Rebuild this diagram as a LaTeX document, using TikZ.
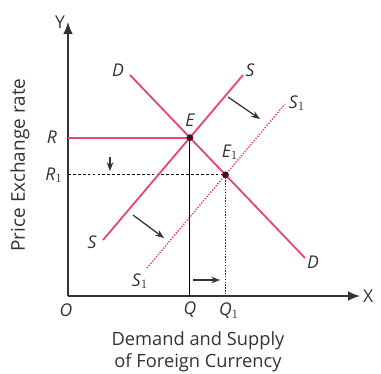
\documentclass[tikz,border=0pt]{standalone}
\usepackage{fontspec}
\setmainfont{Open Sans}
\usepackage{xcolor}
\definecolor{cCurve}{HTML}{E6457E}
\definecolor{cAxis}{HTML}{333333}
\definecolor{cDot}{HTML}{4A1020}
\usetikzlibrary{positioning,arrows.meta}
\tikzset{
  axis-line/.style={line width=1pt,draw=cAxis,-{Latex[length=3mm,width=2.4mm]}},
  curve/.style={draw=cCurve,line width=1.3pt},
  curve-new/.style={draw=cCurve,line width=1pt,densely dotted},
  guide/.style={draw=black,line width=0.8pt},
  guide-dash/.style={draw=black,line width=0.8pt,dash pattern=on 2pt off 1.5pt},
  guide-dot/.style={draw=cAxis,line width=1pt,densely dotted},
  shift-arrow/.style={-{Stealth[length=2.2mm]},line width=0.9pt,draw=cAxis},
  curve-label/.style={font=\itshape\fontsize{12.5}{15}\selectfont,text=cAxis,inner sep=1pt},
  eq-dot/.style={circle,fill=cDot,inner sep=0pt,minimum size=1.7mm},
}

\begin{document}
\begin{tikzpicture}[x=0.25mm,y=-0.25mm]
  \useasboundingbox (0,0) rectangle (381,373);
  % axes
  \coordinate (o) at (68,296);
  \coordinate (ytop) at (68,22);
  \coordinate (xend) at (360,296);
  \draw[axis-line] (o) -- (ytop);
  \draw[axis-line] (o) -- (xend);
  \node[curve-label,font=\fontsize{12.5}{15}\selectfont,left=1pt] at (ytop) {Y};
  \node[curve-label,font=\fontsize{12.5}{15}\selectfont,right=1pt] at (xend) {X};
  \node[curve-label] (lo) at (66,310) {O};
  % curves
  \coordinate (d1) at (130,75);  \coordinate (d2) at (305,258);
  \coordinate (s1) at (103,240); \coordinate (s2) at (243,75);
  \coordinate (n1) at (147,268); \coordinate (n2) at (285,104);
  \coordinate (e) at (intersection of d1--d2 and s1--s2);
  \coordinate (e1) at (intersection of d1--d2 and n1--n2);
  \coordinate (r) at (o |- e);
  \coordinate (r1) at (o |- e1);
  \coordinate (q) at (e |- o);
  \coordinate (q1) at (e1 |- o);
  \draw[curve-new] (n1) -- (n2);
  \draw[guide-dash] (r1) -- (e1);
  \draw[guide-dot] (e1) -- (q1);
  \draw[guide] (e) -- (q);
  \draw[curve,line width=1.6pt] (r) -- (e);
  \draw[curve] (d1) -- (d2);
  \draw[curve] (s1) -- (s2);
  \node[eq-dot] (pe) at (e) {};
  \node[eq-dot] (pe1) at (e1) {};
  % labels
  \node[curve-label] (ld1) at (118,70) {D};
  \node[curve-label] (ld2) at (313,262) {D};
  \node[curve-label] (ls2) at (250,70) {S};
  \node[curve-label] (ls1) at (92,242) {S};
  \node[curve-label] (ln2) at (297,103) {S$_1$};
  \node[curve-label] (ln1) at (140,281) {S$_1$};
  \node[curve-label,above=4pt of pe] (le) {E};
  \node[curve-label] (le1) at (230,152) {E$_1$};
  \node[curve-label] (lr) at (52,137) {R};
  \node[curve-label] (lr1) at (54,175) {R$_1$};
  \node[curve-label] (lq) at (190,310) {Q};
  \node[curve-label] (lq1) at (229,311) {Q$_1$};
  % shifts
  \coordinate (a1) at (110,157); \coordinate (a2) at (110,171);
  \coordinate (b1) at (193,280); \coordinate (b2) at (220,280);
  \coordinate (c1) at (228,97);  \coordinate (c2) at (260,119);
  \coordinate (f1) at (133,215); \coordinate (f2) at (164,238);
  \draw[shift-arrow] (a1) -- (a2);
  \draw[shift-arrow] (b1) -- (b2);
  \draw[shift-arrow] (c1) -- (c2);
  \draw[shift-arrow] (f1) -- (f2);
  % axis titles
  \node[rotate=90,text=cAxis,font=\fontsize{13.5}{15}\selectfont] (ytitle) at (20,165) {Price Exchange rate};
  \node[align=center,text=cAxis,font=\fontsize{13}{15.5}\selectfont] (xtitle) at (198,352) {Demand and Supply\\of Foreign Currency};
\end{tikzpicture}
\end{document}
